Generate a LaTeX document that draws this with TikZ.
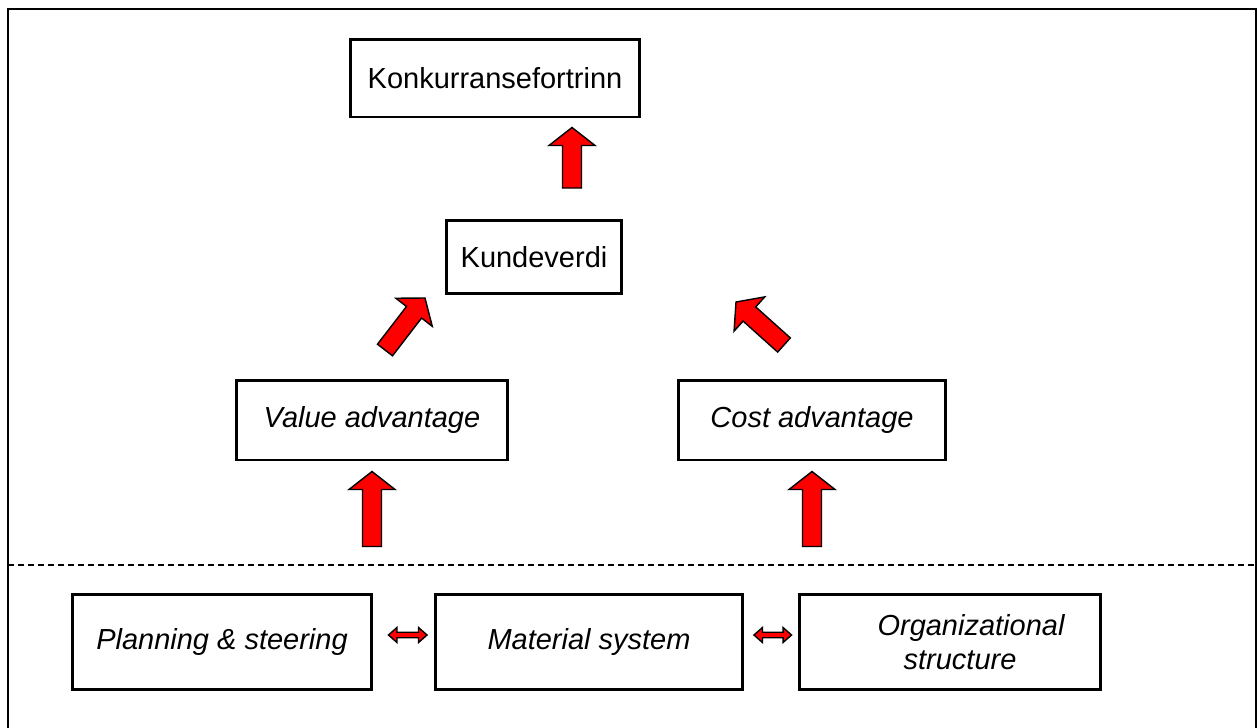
\documentclass[tikz,border=0pt]{standalone}
\usepackage{fontspec}
\setmainfont{Liberation Sans}
\usetikzlibrary{calc}
\tikzset{
  box/.style={draw=black, line width=1.7pt, fill=white, inner sep=2pt,
    font=\fontsize{16.5pt}{19.5pt}\selectfont, align=center},
  ibox/.style={box, font=\fontsize{16.5pt}{19.5pt}\selectfont\itshape},
  redarrow/.style={draw=black, fill=red, line width=0.8pt, line join=miter},
  frameline/.style={draw=black, line width=1.1pt},
  sepline/.style={draw=black, line width=0.6pt, dash pattern=on 0.12cm off 0.08cm}
}
\newcommand{\blockarrow}[2]{%
  \coordinate (ba-c) at ($(#2)!0.36cm!(#1)$);
  \draw[redarrow] ($(#1)!0.19cm!90:(#2)$) -- ($(ba-c)!0.19cm!90:(#2)$)
    -- ($(ba-c)!0.46cm!90:(#2)$) -- (#2) -- ($(ba-c)!0.46cm!-90:(#2)$)
    -- ($(ba-c)!0.19cm!-90:(#2)$) -- ($(#1)!0.19cm!-90:(#2)$) -- cycle;
}
\newcommand{\dblarrow}[2]{%
  \coordinate (da-a) at ($(#1)!0.17cm!(#2)$);
  \coordinate (da-b) at ($(#2)!0.17cm!(#1)$);
  \draw[redarrow] (#1) -- ($(da-a)!0.15cm!90:(#2)$) -- ($(da-a)!0.055cm!90:(#2)$)
    -- ($(da-b)!0.055cm!90:(#2)$) -- ($(da-b)!0.15cm!90:(#2)$) -- (#2)
    -- ($(da-b)!0.15cm!-90:(#2)$) -- ($(da-b)!0.055cm!-90:(#2)$)
    -- ($(da-a)!0.055cm!-90:(#2)$) -- ($(da-a)!0.15cm!-90:(#2)$) -- cycle;
}
\begin{document}
\begin{tikzpicture}[x=0.02cm, y=-0.02cm]
  \useasboundingbox (0,0) rectangle (1257,727);
  % frame
  \draw[frameline] (8,740) -- (8,9) -- (1256,9) -- (1256,740);
  % dashed separator
  \coordinate (sepL) at (8,565);
  \coordinate (sepR) at (1256,565);
  \draw[sepline] (sepL) -- (sepR);
  % boxes
  \node[box, minimum width=5.8cm, minimum height=1.56cm] (konk) at (495,78) {Konkurransefortrinn};
  \node[box, minimum width=3.5cm, minimum height=1.46cm] (kunde) at (534,257) {Kundeverdi};
  \node[ibox, minimum width=5.42cm, minimum height=1.6cm] (value) at (372,420) {Value advantage};
  \node[ibox, minimum width=5.36cm, minimum height=1.6cm] (cost) at (812,420) {Cost advantage};
  \node[ibox, minimum width=6.0cm, minimum height=1.9cm] (plan) at (222,642) {Planning \& steering};
  \node[ibox, minimum width=6.14cm, minimum height=1.9cm] (mat) at (589,642) {Material system};
  \node[ibox, minimum width=6.04cm, minimum height=1.9cm] (org) at (950,642) {};
  \node[font=\fontsize{16.5pt}{19.5pt}\selectfont\itshape, align=left, inner sep=0pt] (orgtext) at (971,642) {Organizational\\\hspace{0.9em}structure};
  % arrow end points
  \coordinate (a1s) at ($(kunde.north)+(38,-31)$);
  \coordinate (a1e) at ($(konk.south)+(77,9)$);
  \coordinate (a2s) at (385,350);
  \coordinate (a2e) at (425,298);
  \coordinate (a3s) at (784,345);
  \coordinate (a3e) at (736,302);
  \coordinate (a4s) at ($(value.south)+(0,85)$);
  \coordinate (a4e) at ($(value.south)+(0,10)$);
  \coordinate (a5s) at ($(cost.south)+(0,85)$);
  \coordinate (a5e) at ($(cost.south)+(0,10)$);
  \blockarrow{a1s}{a1e}
  \blockarrow{a2s}{a2e}
  \blockarrow{a3s}{a3e}
  \blockarrow{a4s}{a4e}
  \blockarrow{a5s}{a5e}
  % double arrows
  \coordinate (d1a) at ($(plan.east)+(15,-7)$);
  \coordinate (d1b) at ($(mat.west)+(-7,-7)$);
  \coordinate (d2a) at ($(mat.east)+(10,-7)$);
  \coordinate (d2b) at ($(org.west)+(-6,-7)$);
  \dblarrow{d1a}{d1b}
  \dblarrow{d2a}{d2b}
\end{tikzpicture}
\end{document}
